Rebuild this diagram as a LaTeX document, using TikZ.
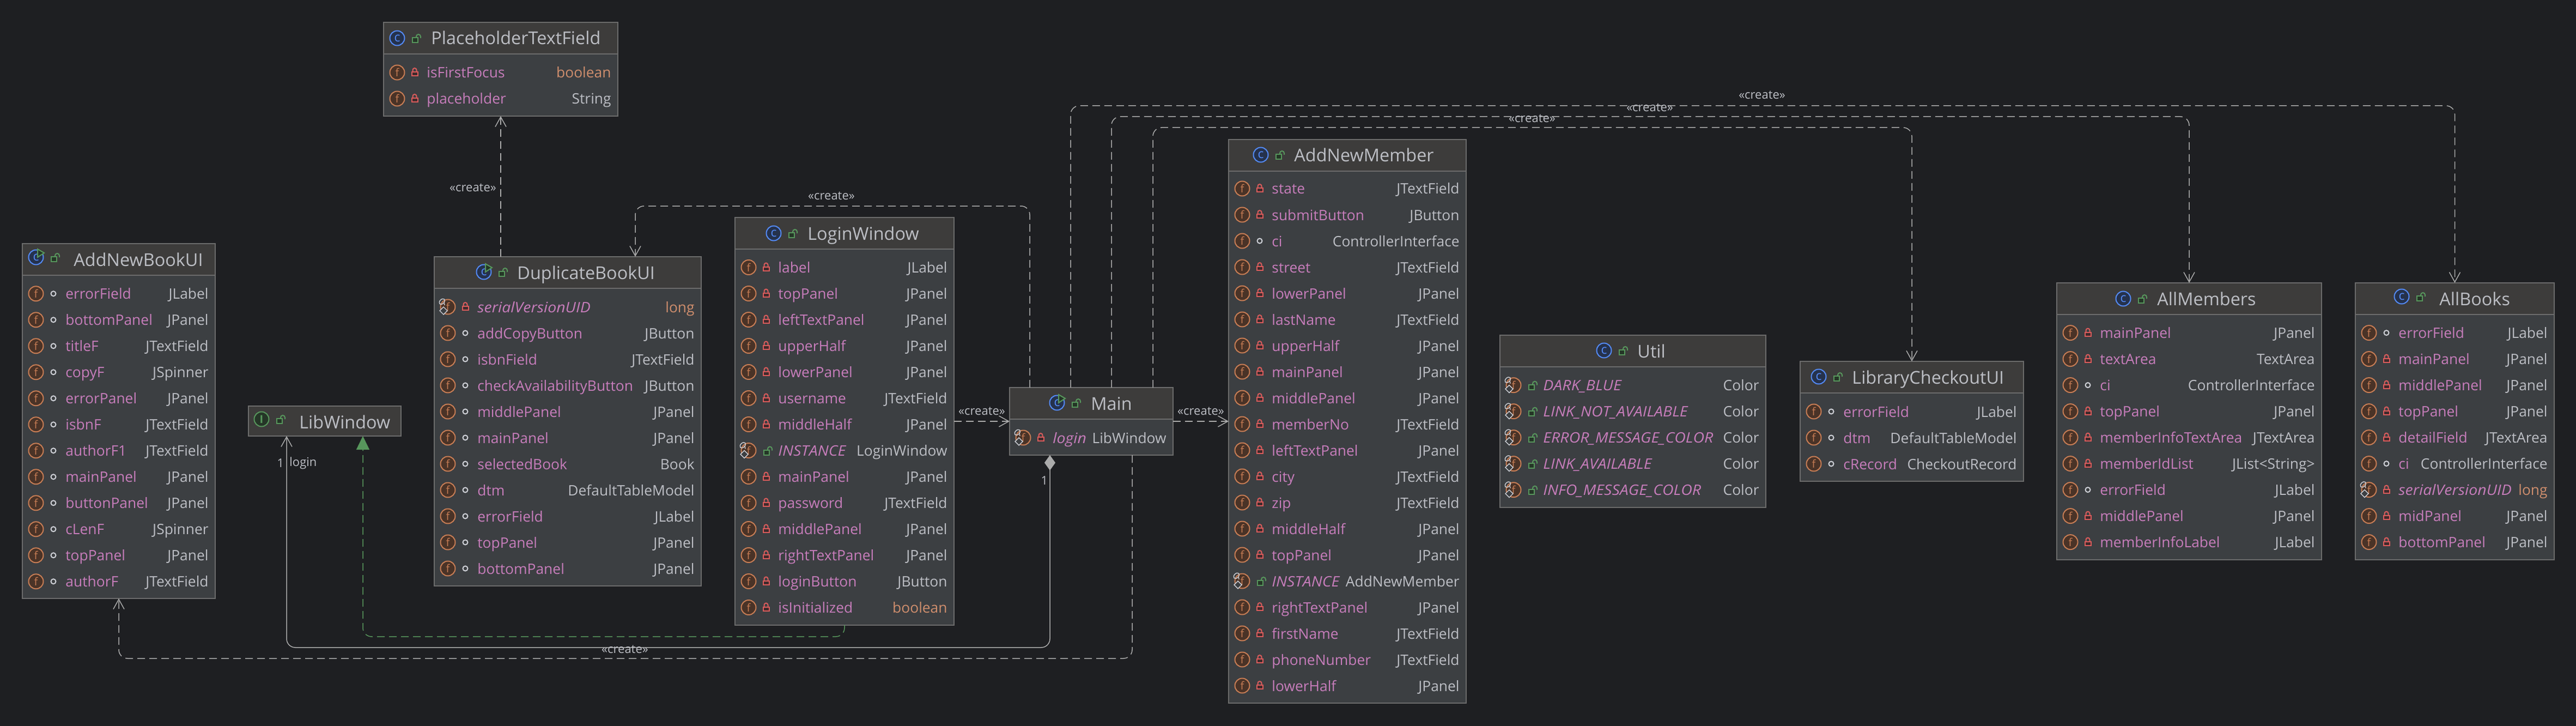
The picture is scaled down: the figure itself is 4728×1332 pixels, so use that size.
\documentclass[tikz,border=0pt]{standalone}
\usepackage{fontspec}
\setmainfont[ItalicFeatures={FakeStretch=1.08}]{Open Sans}
\usetikzlibrary{arrows.meta,fit}
\definecolor{canvasbg}{HTML}{1E1F22}
\definecolor{headfill}{HTML}{3D3C3B}
\definecolor{bodyfill}{HTML}{3C3F42}
\definecolor{boxline}{HTML}{6C6C6C}
\definecolor{titlecol}{HTML}{BCBEC4}
\definecolor{namecol}{HTML}{C77DBB}
\definecolor{kwcol}{HTML}{CF8E6D}
\definecolor{wirecol}{HTML}{ABABAB}
\definecolor{iconblue}{HTML}{548AF7}
\definecolor{iconbluefill}{HTML}{25324D}
\definecolor{iconorange}{HTML}{C77D55}
\definecolor{iconorangefill}{HTML}{4A3327}
\definecolor{icongreen}{HTML}{57965C}
\definecolor{icongreenfill}{HTML}{253627}
\definecolor{lockred}{HTML}{DB5C5C}
\definecolor{lockredfill}{HTML}{402A2C}
\definecolor{dotcol}{HTML}{CED0D6}
\newcommand{\kw}[1]{\textcolor{kwcol}{#1}}
\tikzset{
	bodybox/.style={rectangle, draw=boxline, fill=bodyfill, line width=1.2pt, inner sep=0pt, outer sep=0pt},
	headbox/.style={rectangle, draw=boxline, fill=headfill, line width=1.2pt, inner sep=0pt, outer sep=0pt},
	titletext/.style={anchor=base west, inner sep=0pt, text=titlecol, font=\fontsize{16.2}{18}\selectfont},
	fieldname/.style={anchor=base west, inner sep=0pt, text=namecol, font=\fontsize{13.2}{15}\selectfont},
	fieldtype/.style={anchor=base east, inner sep=0pt, text=titlecol, font=\fontsize{13.2}{15}\selectfont},
	wirelabel/.style={inner sep=0pt, text=titlecol, font=\fontsize{11}{13}\selectfont},
	ficon/.style={circle, draw=iconorange, fill=iconorangefill, line width=1pt, minimum size=13.5pt, inner sep=0pt, text=iconorange, font=\fontsize{10}{10}\selectfont},
	cring/.style={circle, draw=iconblue, fill=iconbluefill, line width=1pt, minimum size=13.5pt, inner sep=0pt, text=iconblue, font=\fontsize{11.5}{11.5}\selectfont},
	iring/.style={circle, draw=icongreen, fill=icongreenfill, line width=1pt, minimum size=13.5pt, inner sep=0pt, text=icongreen, font=\bfseries\fontsize{10}{10}\selectfont},
	createdep/.style={draw=wirecol, line width=0.75pt, dash pattern=on 7pt off 4pt, rounded corners=8pt, -{Straight Barb[length=9pt,width=10pt]}},
	assocline/.style={draw=wirecol, line width=0.75pt, rounded corners=8pt, {Diamond[length=14pt,width=10pt,fill=wirecol]}-{Straight Barb[length=9pt,width=10pt]}},
	implline/.style={draw=icongreen, line width=0.75pt, dash pattern=on 7pt off 4pt, rounded corners=8pt, -{Triangle[length=12.5pt,width=12pt,fill=icongreen]}},
	publock/.pic={
		\draw[icongreen, fill=icongreenfill, line width=1pt] (-6,-1) rectangle (4,8);
		\draw[icongreen, line width=1pt] (1,-1) -- (1,-3) arc (180:360:4) -- (9,0);
	},
	privlock/.pic={
		\draw[lockred, fill=lockredfill, line width=1pt] (-5.5,-1) rectangle (5.5,6);
		\draw[lockred, line width=1pt] (-3.5,-1) -- (-3.5,-4.5) arc (180:360:3.5) -- (3.5,-1);
	},
	pkgdot/.pic={
		\draw[dotcol, line width=1pt] (0,0) circle (4.5);
	},
	staticmark/.pic={
		\draw[dotcol, line width=0.7pt, rotate=45] (0,-1) ellipse (6 and 4);
		\draw[dotcol, line width=0.7pt] (3,1) -- (4,6);
		\draw[dotcol, fill=bodyfill, line width=0.7pt] (2,9) -- (9,16) -- (2,23) -- (-5,16) -- cycle;
	},
	sprivlock/.pic={
		\pic at (0,0) {privlock};
		\pic at (-42,-9) {staticmark};
	},
	spublock/.pic={
		\pic at (2,0) {publock};
		\pic at (-42,-9) {staticmark};
	},
	classicon/.pic={
		\node[cring] (ring) at (0,0) {c};
		\pic at (34,0) {publock};
	},
	runicon/.pic={
		\node[cring] (ring) at (0,0) {c};
		\draw[icongreen, fill=icongreenfill, line width=1pt] (3,-15) -- (15,-8) -- (3,0) -- cycle;
		\pic at (34,0) {publock};
	},
	ifaceicon/.pic={
		\node[iring] (ring) at (0,0) {I};
		\pic at (34,0) {publock};
	},
}
\newcommand{\classbox}[9]{
	\node[bodybox, fit={(#2,#3) (#4,#5)}] (#1) {};
	\pgfmathsetmacro{\headend}{min(#3+58,#5)}
	\node[headbox, fit={(#2,#3) (#4,\headend)}] (#1-head) {};
	\path (#7) pic (#1-icon) {#6};
	\node[titletext] (#1-title) at (#8,#3+41) {#9};
}
\newcommand{\fieldrows}[5]{
	\foreach \fname/\ftype/\facc [count=\i from 0] in {#5} {
		\pgfmathsetmacro{\ry}{#4+48*\i}
		\node[ficon] (#1-f\i) at (#2+25,\ry) {f};
		\path (#2+57,\ry) pic {\facc};
		\node[fieldname] (#1-n\i) at (#2+79,\ry+10) {\fname};
		\node[fieldtype] (#1-t\i) at (#3-12,\ry+10) {\ftype};
	}
}
\begin{document}
\begin{tikzpicture}[x=0.5pt, y=-0.5pt]
	\useasboundingbox (0,0) rectangle (4728,1332);
	\fill[canvasbg] (0,0) rectangle (4728,1332);

	\classbox{AddNewBookUI}{41}{447}{395}{1098}{runicon}{66,472}{135}{AddNewBookUI}
	\fieldrows{AddNewBookUI}{41}{395}{538.8}{errorField/JLabel/pkgdot, bottomPanel/JPanel/pkgdot, titleF/JTextField/pkgdot, copyF/JSpinner/pkgdot, errorPanel/JPanel/pkgdot, isbnF/JTextField/pkgdot, authorF1/JTextField/pkgdot, mainPanel/JPanel/pkgdot, buttonPanel/JPanel/pkgdot, cLenF/JSpinner/pkgdot, topPanel/JPanel/pkgdot, authorF/JTextField/pkgdot}

	\classbox{LibWindow}{456}{745}{736}{800}{ifaceicon}{480,769}{549}{LibWindow}

	\classbox{PlaceholderTextField}{704}{41}{1134}{213}{classicon}{729,70}{791}{PlaceholderTextField}
	\fieldrows{PlaceholderTextField}{704}{1134}{133}{isFirstFocus/\kw{boolean}/privlock, placeholder/String/privlock}

	\classbox{DuplicateBookUI}{797}{471}{1287}{1075}{runicon}{888,499}{949}{DuplicateBookUI}
	\fieldrows{DuplicateBookUI}{797}{1287}{563}{{\itshape serialVersionUID}/\kw{long}/sprivlock, addCopyButton/JButton/pkgdot, isbnField/JTextField/pkgdot, checkAvailabilityButton/JButton/pkgdot, middlePanel/JPanel/pkgdot, mainPanel/JPanel/pkgdot, selectedBook/Book/pkgdot, dtm/DefaultTableModel/pkgdot, errorField/JLabel/pkgdot, topPanel/JPanel/pkgdot, bottomPanel/JPanel/pkgdot}

	\classbox{LoginWindow}{1349}{399}{1751}{1147}{classicon}{1420,428}{1482}{LoginWindow}
	\fieldrows{LoginWindow}{1349}{1751}{490.5}{label/JLabel/privlock, topPanel/JPanel/privlock, leftTextPanel/JPanel/privlock, upperHalf/JPanel/privlock, lowerPanel/JPanel/privlock, username/JTextField/privlock, middleHalf/JPanel/privlock, {\itshape INSTANCE}/LoginWindow/spublock, mainPanel/JPanel/privlock, password/JTextField/privlock, middlePanel/JPanel/privlock, rightTextPanel/JPanel/privlock, loginButton/JButton/privlock, isInitialized/\kw{boolean}/privlock}

	\classbox{Main}{1853}{711}{2153}{835}{runicon}{1940,739}{2002}{Main}
	\fieldrows{Main}{1853}{2153}{803}{{\itshape login}/LibWindow/sprivlock}

	\classbox{AddNewMember}{2255}{256}{2691}{1290}{classicon}{2314,284}{2375}{AddNewMember}
	\fieldrows{AddNewMember}{2255}{2691}{346}{state/JTextField/privlock, submitButton/JButton/privlock, ci/ControllerInterface/pkgdot, street/JTextField/privlock, lowerPanel/JPanel/privlock, lastName/JTextField/privlock, upperHalf/JPanel/privlock, mainPanel/JPanel/privlock, middlePanel/JPanel/privlock, memberNo/JTextField/privlock, leftTextPanel/JPanel/privlock, city/JTextField/privlock, zip/JTextField/privlock, middleHalf/JPanel/privlock, topPanel/JPanel/privlock, {\itshape INSTANCE}/AddNewMember/spublock, rightTextPanel/JPanel/privlock, firstName/JTextField/privlock, phoneNumber/JTextField/privlock, lowerHalf/JPanel/privlock}

	\classbox{Util}{2753}{615}{3241}{931}{classicon}{2944,643}{3005}{Util}
	\fieldrows{Util}{2753}{3241}{706.7}{{\itshape DARK\_BLUE}/Color/spublock, {\itshape LINK\_NOT\_AVAILABLE}/Color/spublock, {\itshape ERROR\_MESSAGE\_COLOR}/Color/spublock, {\itshape LINK\_AVAILABLE}/Color/spublock, {\itshape INFO\_MESSAGE\_COLOR}/Color/spublock}

	\classbox{LibraryCheckoutUI}{3304}{663}{3714}{883}{classicon}{3338,691}{3399}{LibraryCheckoutUI}
	\fieldrows{LibraryCheckoutUI}{3304}{3714}{755}{errorField/JLabel/pkgdot, dtm/DefaultTableModel/pkgdot, cRecord/CheckoutRecord/pkgdot}

	\classbox{AllMembers}{3775}{519}{4261}{1027}{classicon}{3897,548}{3959}{AllMembers}
	\fieldrows{AllMembers}{3775}{4261}{610.6}{mainPanel/JPanel/privlock, textArea/TextArea/privlock, ci/ControllerInterface/pkgdot, topPanel/JPanel/privlock, memberInfoTextArea/JTextArea/privlock, memberIdList/JList<String>/privlock, errorField/JLabel/pkgdot, middlePanel/JPanel/privlock, memberInfoLabel/JLabel/privlock}

	\classbox{AllBooks}{4323}{519}{4688}{1027}{classicon}{4408,544}{4477}{AllBooks}
	\fieldrows{AllBooks}{4323}{4688}{610.6}{errorField/JLabel/pkgdot, mainPanel/JPanel/privlock, middlePanel/JPanel/privlock, topPanel/JPanel/privlock, detailField/JTextArea/privlock, ci/ControllerInterface/pkgdot, {\itshape serialVersionUID}/\kw{long}/sprivlock, midPanel/JPanel/privlock, bottomPanel/JPanel/privlock}

	\coordinate (Main-n1) at (1890,711);
	\coordinate (Main-n2) at (1965,711);
	\coordinate (Main-n3) at (2040,711);
	\coordinate (Main-n4) at (2116,711);
	\coordinate (Main-s1) at (1927,835);
	\coordinate (Main-s2) at (2078,835);
	\coordinate (LibWindow-s1) at (526,800);
	\coordinate (LibWindow-s2) at (666,800);
	\coordinate (DuplicateBookUI-n1) at (919,471);
	\coordinate (DuplicateBookUI-n2) at (1166,471);
	\coordinate (lane1) at (1500,378);
	\coordinate (lane2) at (3000,194);
	\coordinate (lane3) at (3000,214);
	\coordinate (lane4) at (3000,234);
	\coordinate (lane5) at (1200,1168);
	\coordinate (lane6) at (1200,1188);
	\coordinate (lane7) at (1200,1208);

	\draw[createdep] (DuplicateBookUI-n1) -- (PlaceholderTextField.south);
	\draw[createdep] (Main-n1) |- (lane1) -| (DuplicateBookUI-n2);
	\draw[createdep] (Main-n2) |- (lane2) -| (AllBooks.north);
	\draw[createdep] (Main-n3) |- (lane3) -| (AllMembers.north);
	\draw[createdep] (Main-n4) |- (lane4) -| (LibraryCheckoutUI.north);
	\draw[createdep] (LoginWindow.east) -- (Main.west);
	\draw[createdep] (Main.east) -- (AddNewMember.west);
	\draw[createdep] (Main-s2) |- (lane7) -| (AddNewBookUI.south);
	\draw[assocline] (Main-s1) |- (lane6) -| (LibWindow-s1);
	\draw[implline] (LoginWindow.south) |- (lane5) -| (LibWindow-s2);

	\node[wirelabel] (create1) at (868,344) {«create»};
	\node[wirelabel] (create2) at (1526,359) {«create»};
	\node[wirelabel] (create3) at (1802,754) {«create»};
	\node[wirelabel] (create4) at (2204,754) {«create»};
	\node[wirelabel] (create5) at (3234,174) {«create»};
	\node[wirelabel] (create6) at (3028,197) {«create»};
	\node[wirelabel] (create7) at (2812,217) {«create»};
	\node[wirelabel] (create8) at (1147,1191) {«create»};
	\node[wirelabel] (mult1) at (515,850) {1};
	\node[wirelabel, anchor=west] (role1) at (531,850) {login};
	\node[wirelabel] (mult2) at (1917,882) {1};
\end{tikzpicture}
\end{document}
